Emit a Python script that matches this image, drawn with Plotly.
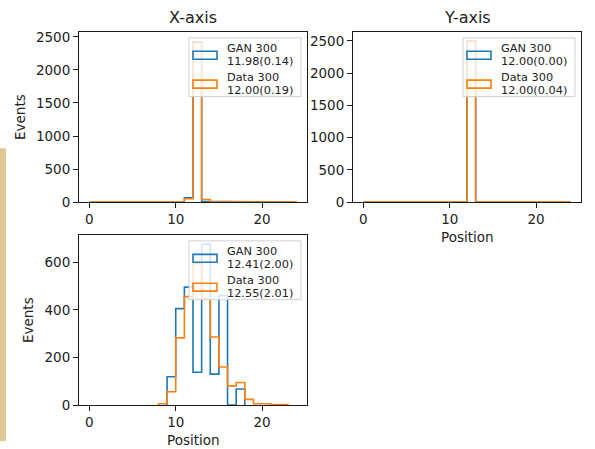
import plotly.graph_objects as go

W, H = 595, 449
SY = 0.98  # the page is rendered slightly compressed vertically; compensate
BLUE = "#1f77b4"
ORANGE = "#ff7f0e"
FONT = "DejaVu Sans"
TXT = "#222222"

# ---------------- data ----------------
titles = ["X-axis", "Y-axis", ""]
x_tick_vals = [0, 10, 20]
y_ticks_top = [0, 500, 1000, 1500, 2000, 2500]
y_ticks_bottom = [0, 200, 400, 600]

# X-axis panel (bins of width 1)
x_gan_edges = list(range(0, 25))
x_gan_counts = [0] * 11 + [65, 2425, 10] + [0] * 10
x_data_edges = list(range(0, 25))
x_data_counts = [0] * 11 + [50, 2410, 40] + [0] * 10

# Y-axis panel
y_gan_edges = list(range(0, 25))
y_gan_counts = [0] * 12 + [2500] + [0] * 11
y_data_edges = list(range(0, 25))
y_data_counts = [0] * 11 + [2, 2496, 2] + [0] * 10

# third panel
z_gan_edges = list(range(9, 19))
z_gan_counts = [119, 405, 495, 138, 675, 130, 460, 0, 68]
z_data_edges = list(range(8, 24))
z_data_counts = [6, 56, 282, 455, 593, 444, 286, 160, 81, 95, 24, 6, 6, 2, 2]

legend_labels = [
    ["GAN 300", "11.98(0.14)", "Data 300", "12.00(0.19)"],
    ["GAN 300", "12.00(0.00)", "Data 300", "12.00(0.04)"],
    ["GAN 300", "12.41(2.00)", "Data 300", "12.55(2.01)"],
]

# ---------------- layout geometry (pixels) ----------------
panels = [
    dict(x0=79, x1=307, y0=29, y1=200, yr=[0, 2576], yt=y_ticks_top),
    dict(x0=353, x1=581, y0=29, y1=200, yr=[0, 2640], yt=y_ticks_top),
    dict(x0=79, x1=307, y0=233, y1=404, yr=[0, 714], yt=y_ticks_bottom),
]
XR = [-1.2, 25.2]


def px(x):
    return x / W


def py(y):
    return 1 - (y / SY) / H


def step_xy(edges, counts):
    xs, ys = [edges[0]], [0]
    for i, c in enumerate(counts):
        xs += [edges[i], edges[i + 1]]
        ys += [c, c]
    xs.append(edges[-1])
    ys.append(0)
    return xs, ys


fig = go.Figure()
series = [
    [(x_gan_edges, x_gan_counts, BLUE), (x_data_edges, x_data_counts, ORANGE)],
    [(y_gan_edges, y_gan_counts, BLUE), (y_data_edges, y_data_counts, ORANGE)],
    [(z_gan_edges, z_gan_counts, BLUE), (z_data_edges, z_data_counts, ORANGE)],
]

shapes = []
annotations = []

# tan side bar
shapes.append(dict(type="rect", xref="paper", yref="paper", x0=0, x1=px(6),
                   y0=0, y1=py(146), fillcolor="#e0c595", line_width=0, layer="below"))

for i, (p, ser) in enumerate(zip(panels, series)):
    n = "" if i == 0 else str(i + 1)
    for edges, counts, col in ser:
        xs, ys = step_xy(edges, counts)
        fig.add_trace(go.Scatter(x=xs, y=ys, mode="lines", line=dict(color=col, width=1.6),
                                 xaxis="x" + n, yaxis="y" + n, showlegend=False,
                                 hoverinfo="skip"))
    axcommon = dict(showline=True, mirror=True, linecolor="#1a1a1a", linewidth=1,
                    ticks="outside", ticklen=5, tickwidth=1, tickcolor="#1a1a1a",
                    showgrid=False, zeroline=False,
                    tickfont=dict(family=FONT, size=13.5, color=TXT))
    fig.update_layout(**{
        "xaxis" + n: dict(domain=[px(p["x0"]), px(p["x1"])], range=XR,
                          tickvals=x_tick_vals, anchor="y" + n, **axcommon),
        "yaxis" + n: dict(domain=[py(p["y1"]), py(p["y0"])], range=p["yr"],
                          tickvals=p["yt"], anchor="x" + n, **axcommon),
    })

    # legend box
    bx1 = p["x1"] - 6
    bx0 = bx1 - 112
    by0 = p["y0"] + 6
    by1 = by0 + 59
    shapes.append(dict(type="rect", xref="paper", yref="paper",
                       x0=px(bx0), x1=px(bx1), y0=py(by1), y1=py(by0),
                       fillcolor="rgba(255,255,255,0.8)",
                       line=dict(color="#d0d0d0", width=1)))
    for k, (col, cy) in enumerate([(BLUE, 17.5), (ORANGE, 46.5)]):
        shapes.append(dict(type="rect", xref="paper", yref="paper",
                           x0=px(bx0 + 4), x1=px(bx0 + 28),
                           y0=py(by0 + cy + 4), y1=py(by0 + cy - 4),
                           line=dict(color=col, width=1.6), fillcolor="rgba(0,0,0,0)"))
    for lab, ly in zip(legend_labels[i], [10.5, 24, 39.5, 53]):
        annotations.append(dict(text=lab, xref="paper", yref="paper",
                                x=px(bx0 + 36), y=py(by0 + ly), xanchor="left",
                                yanchor="middle", showarrow=False,
                                font=dict(family=FONT, size=11.3, color=TXT)))

# titles and axis labels
for t, cx in [(titles[0], 193), (titles[1], 467)]:
    annotations.append(dict(text=t, xref="paper", yref="paper", x=px(cx), y=py(15),
                            xanchor="center", yanchor="middle", showarrow=False,
                            font=dict(family=FONT, size=16, color=TXT)))
annotations.append(dict(text="Events", xref="paper", yref="paper", x=px(20), y=py(114.5),
                        textangle=-90, xanchor="center", yanchor="middle", showarrow=False,
                        font=dict(family=FONT, size=13.5, color=TXT)))
annotations.append(dict(text="Events", xref="paper", yref="paper", x=px(28), y=py(318.5),
                        textangle=-90, xanchor="center", yanchor="middle", showarrow=False,
                        font=dict(family=FONT, size=13.5, color=TXT)))
annotations.append(dict(text="Position", xref="paper", yref="paper", x=px(467), y=py(235),
                        xanchor="center", yanchor="middle", showarrow=False,
                        font=dict(family=FONT, size=13.5, color=TXT)))
annotations.append(dict(text="Position", xref="paper", yref="paper", x=px(193), y=py(439),
                        xanchor="center", yanchor="middle", showarrow=False,
                        font=dict(family=FONT, size=13.5, color=TXT)))

fig.update_layout(width=W, height=H, margin=dict(l=0, r=0, t=0, b=0),
                  paper_bgcolor="white", plot_bgcolor="white",
                  shapes=shapes, annotations=annotations, showlegend=False)
fig.write_html("out.html")
